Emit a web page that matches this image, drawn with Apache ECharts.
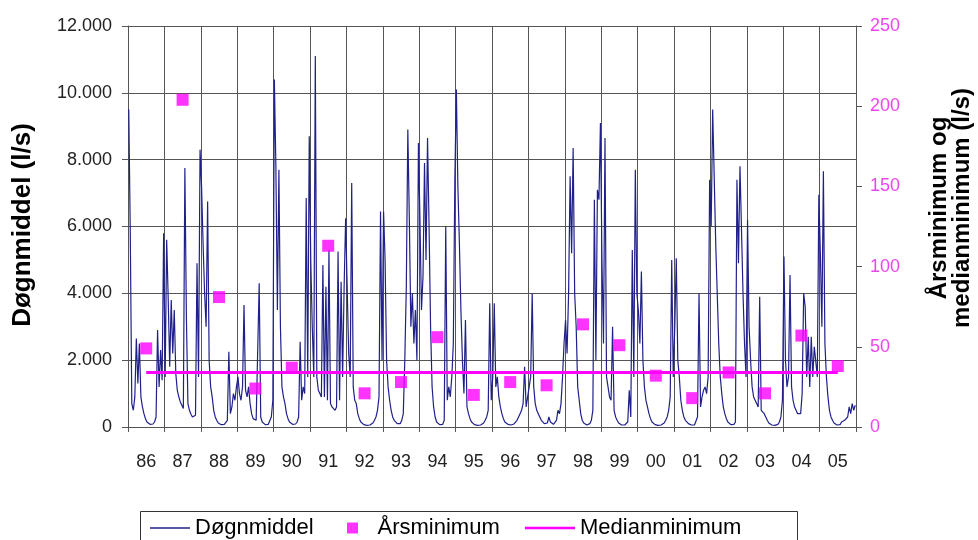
<!DOCTYPE html>
<html>
<head>
<meta charset="utf-8">
<script src="https://cdn.jsdelivr.net/npm/echarts@6/dist/echarts.min.js"></script>
<style>
html,body{margin:0;padding:0;background:#fff;}
#chart{width:978px;height:540px;}
</style>
</head>
<body>
<div id="chart"></div>
<script>
// Year categories (x axis tick labels)
var years = ['86','87','88','89','90','91','92','93','94','95','96','97','98','99','00','01','02','03','04','05'];
// Left axis ticks
var leftTicks = [0, 2000, 4000, 6000, 8000, 10000, 12000];
// Right axis ticks
var rightTicks = [0, 50, 100, 150, 200, 250];

// Døgnmiddel (l/s): values, 24 per year (about half-monthly)
var d86 = [9500, 5800, 700, 500, 900, 2650, 1300, 2500, 900, 600, 400, 250, 150, 100, 80, 70, 90, 150, 300, 2900, 1200, 2300, 1400, 5800];
var d87 = [1500, 5600, 3850, 1800, 3800, 2200, 3500, 1600, 1100, 900, 750, 650, 550, 7750, 3300, 700, 500, 380, 300, 280, 350, 4900, 1500, 8300];
var d88 = [7200, 5500, 4000, 3000, 6750, 2000, 1200, 900, 500, 300, 200, 120, 80, 70, 60, 80, 120, 200, 2250, 400, 600, 1000, 800, 1200];
var d89 = [1500, 1000, 800, 1200, 3650, 1100, 900, 1200, 700, 400, 250, 300, 200, 250, 4300, 300, 150, 100, 70, 60, 80, 120, 300, 800];
var d90 = [10400, 7800, 3500, 7700, 3000, 1200, 900, 700, 400, 250, 150, 100, 80, 70, 90, 150, 300, 2550, 800, 1200, 1000, 6850, 1500, 8700];
var d91 = [5000, 3000, 1500, 11100, 1500, 1100, 1000, 900, 4850, 900, 4200, 800, 5300, 700, 600, 550, 500, 600, 5250, 800, 4350, 1500, 4200, 6250];
var d92 = [4200, 2200, 1500, 7300, 1200, 800, 700, 400, 250, 150, 100, 70, 60, 50, 50, 60, 80, 120, 200, 300, 500, 900, 6450, 2000];
var d93 = [6450, 5000, 2000, 1200, 800, 500, 300, 200, 150, 100, 80, 100, 200, 400, 2000, 4200, 8900, 6200, 3000, 4000, 2500, 3500, 2000, 8500];
var d94 = [6200, 3500, 4500, 7900, 5000, 8650, 6000, 3000, 1200, 600, 300, 150, 100, 70, 60, 80, 200, 6000, 800, 1200, 900, 1500, 2500, 7400];
var d95 = [10100, 7200, 5500, 3500, 2000, 1000, 3200, 600, 400, 250, 150, 100, 70, 60, 50, 50, 60, 80, 120, 200, 300, 500, 3700, 800];
var d96 = [1500, 3700, 1200, 1500, 900, 600, 400, 250, 150, 100, 80, 60, 60, 70, 90, 120, 200, 300, 400, 500, 700, 1800, 600, 900];
var d97 = [1200, 1500, 4000, 1200, 700, 500, 400, 300, 200, 150, 100, 80, 120, 300, 150, 100, 80, 120, 200, 500, 400, 700, 1500, 2500];
var d98 = [3200, 2200, 4000, 7500, 5200, 8350, 4000, 3000, 1200, 800, 400, 200, 120, 80, 60, 70, 100, 200, 500, 6800, 2000, 7100, 6800, 9100];
var d99 = [5000, 2500, 8650, 1500, 1200, 900, 800, 3000, 500, 300, 200, 120, 80, 60, 50, 60, 100, 150, 1100, 300, 5300, 1500, 7700, 4000];
var d00 = [3500, 2500, 4650, 2000, 1200, 800, 600, 400, 250, 150, 100, 70, 60, 50, 50, 60, 80, 120, 200, 300, 500, 900, 5000, 1500];
var d01 = [3000, 5050, 2000, 1500, 800, 500, 300, 200, 150, 100, 80, 60, 50, 60, 100, 300, 4000, 600, 900, 1100, 1200, 1000, 1500, 7400];
var d02 = [6000, 9500, 9550, 5500, 4000, 2500, 1500, 1000, 600, 400, 250, 150, 100, 70, 60, 80, 150, 7400, 4900, 7800, 7800, 4000, 2500, 1500];
var d03 = [6200, 3000, 2000, 1200, 900, 800, 700, 600, 3900, 500, 450, 400, 300, 200, 120, 80, 60, 50, 50, 60, 80, 150, 300, 800];
var d04 = [5100, 2000, 1200, 1500, 4550, 1200, 800, 600, 500, 400, 350, 400, 1000, 4000, 3600, 1500, 2700, 1200, 2700, 1500, 2400, 2400, 1500, 6950];
var d05 = [5200, 3000, 7650, 2500, 1500, 900, 500, 300, 200, 120, 80, 60, 50, 70, 150, 100, 200, 150, 300, 600, 400, 700, 500, 650];

// Årsminimum (l/s), one per year
var arsminimum = [49, 204, 81, 24, 37, 113, 21, 28, 56, 20, 28, 26, 64, 51, 32, 18, 34, 21, 57, 38];
// Medianminimum (l/s)
var medianminimum = 34;

var dailyYears = [d86, d87, d88, d89, d90, d91, d92, d93, d94, d95, d96, d97, d98, d99, d00, d01, d02, d03, d04, d05];
var dailyPoints = [];
dailyYears.forEach(function (arr, yi) {
  arr.forEach(function (v, i) {
    dailyPoints.push([yi + (i + 0.5) / arr.length, v]);
  });
});
var medianLine = years.map(function () { return medianminimum; });

var FONT = '"Liberation Sans", Arial, sans-serif';
var GRIDC = '#555';
var PINK = '#ff00ff';
var NAVY = '#20208a';

function fmtThousands(v) {
  return String(v).replace(/\B(?=(\d{3})+(?!\d))/g, '.');
}

function legendPart(left, name, icon, itemWidth) {
  return {
    left: left,
    top: 511,
    orient: 'horizontal',
    padding: [6, 10, 10, 10],
    itemWidth: itemWidth,
    itemHeight: 11,
    itemGap: 10,
    textStyle: {fontFamily: FONT, fontSize: 22, color: '#000'},
    data: [{name: name, icon: icon}]
  };
}

var chart = echarts.init(document.getElementById('chart'), null, {renderer: 'canvas'});
chart.setOption({
  animation: false,
  backgroundColor: '#fff',
  textStyle: {fontFamily: FONT},
  grid: {left: 128, right: 122, top: 26, bottom: 113, containLabel: false, outerBoundsMode: 'none'},
  legend: [
    legendPart(140, 'Døgnmiddel', 'path://M0,0L40,0L40,1.6L0,1.6Z', 40),
    legendPart(337, 'Årsminimum', 'path://M0,0L10,0L10,10L0,10Z', 40),
    legendPart(515, 'Medianminimum', 'path://M0,0L50,0L50,2.4L0,2.4Z', 50)
  ],
  graphic: [
    {
      type: 'rect', shape: {x: 140.5, y: 511.5, width: 657, height: 40},
      style: {fill: 'none', stroke: '#333', lineWidth: 1}, silent: true, z: 10
    },
    {
      type: 'text', x: 23, y: 225, rotation: Math.PI / 2,
      style: {text: 'Døgnmiddel (l/s)', fontFamily: FONT, fontSize: 26, fontWeight: 'bold', fill: '#000', align: 'center', verticalAlign: 'middle'}
    },
    {
      type: 'text', x: 951, y: 208, rotation: Math.PI / 2,
      style: {text: 'Årsminimum og\nmedianminimum (l/s)', fontFamily: FONT, fontSize: 24, fontWeight: 'bold', lineHeight: 23, fill: '#000', align: 'center', verticalAlign: 'middle'}
    }
  ],
  xAxis: [
    {
      type: 'category',
      data: years,
      boundaryGap: true,
      axisLine: {show: true, lineStyle: {color: GRIDC, width: 1}},
      axisTick: {show: true, length: 5, lineStyle: {color: GRIDC}},
      splitLine: {show: true, lineStyle: {color: GRIDC, width: 1}},
      axisLabel: {fontFamily: FONT, fontSize: 18, color: '#222', margin: 26, interval: 0}
    },
    {
      type: 'value', min: 0, max: years.length, show: false,
      splitLine: {show: false}
    }
  ],
  yAxis: [
    {
      type: 'value', min: leftTicks[0], max: leftTicks[leftTicks.length - 1], interval: leftTicks[1] - leftTicks[0],
      position: 'left',
      axisLine: {show: true, lineStyle: {color: GRIDC, width: 1}},
      axisTick: {show: true, length: 6, lineStyle: {color: GRIDC}},
      splitLine: {show: true, lineStyle: {color: GRIDC, width: 1}},
      axisLabel: {fontFamily: FONT, fontSize: 18, color: '#222', margin: 16, formatter: fmtThousands}
    },
    {
      type: 'value', min: rightTicks[0], max: rightTicks[rightTicks.length - 1], interval: rightTicks[1] - rightTicks[0],
      position: 'right',
      axisLine: {show: true, lineStyle: {color: GRIDC, width: 1}},
      axisTick: {show: true, length: 6, lineStyle: {color: GRIDC}},
      splitLine: {show: false},
      axisLabel: {fontFamily: FONT, fontSize: 18, color: '#ee44ee', margin: 14}
    }
  ],
  series: [
    {
      name: 'Døgnmiddel', type: 'line', xAxisIndex: 1, yAxisIndex: 0,
      data: dailyPoints, symbol: 'none', showSymbol: false,
      lineStyle: {color: NAVY, width: 1.2},
      itemStyle: {color: NAVY},
      z: 2
    },
    {
      name: 'Medianminimum', type: 'line', xAxisIndex: 0, yAxisIndex: 1,
      data: medianLine, symbol: 'none', showSymbol: false,
      lineStyle: {color: PINK, width: 3},
      itemStyle: {color: PINK},
      z: 4
    },
    {
      name: 'Årsminimum', type: 'scatter', xAxisIndex: 0, yAxisIndex: 1,
      data: arsminimum, symbol: 'rect', symbolSize: 12,
      itemStyle: {color: PINK},
      z: 5
    }
  ]
});
</script>
</body>
</html>
